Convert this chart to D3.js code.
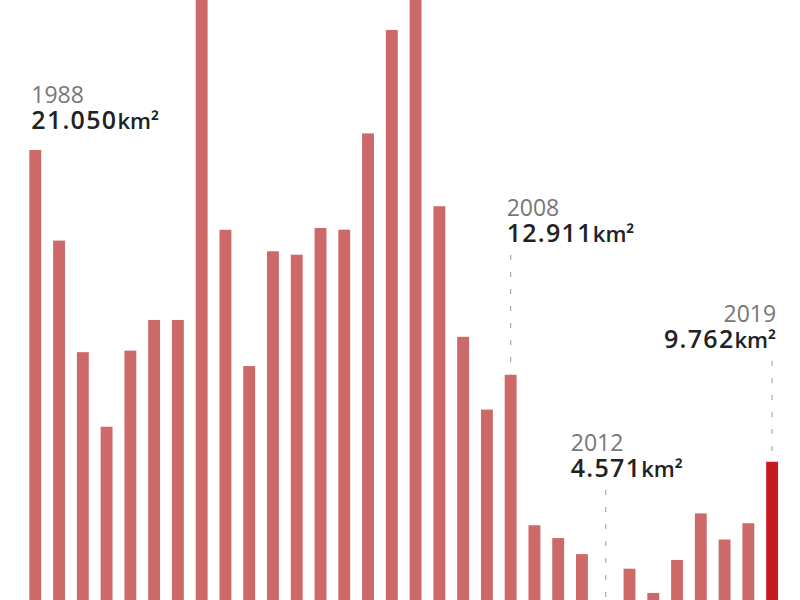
<!DOCTYPE html>
<html><head><meta charset="utf-8">
<script src="https://cdn.jsdelivr.net/npm/d3@7"></script>
<style>
html,body{margin:0;padding:0;background:#fff;overflow:hidden}
text{font-family:"Open Sans",sans-serif}
</style></head>
<body><svg id="c" width="800" height="600"></svg>
<script>
const years = d3.range(1988, 2020).map(String);
const values = [21050,17770,13730,11030,13786,14896,14896,29059,18161,13227,17383,17259,18226,18165,21651,25396,27772,19014,14286,11651,12911,7464,7000,6418,4571,5891,5012,6207,7893,6947,7536,9762];
const highlighted = ["2019"];
const annotations = [
  {year:"1988", anchor:"start", dx:-4, yearY:103, valueY:129, line:false},
  {year:"2008", anchor:"start", dx:-4, yearY:216, valueY:242, line:true},
  {year:"2012", anchor:"start", dx:-35, yearY:451, valueY:477, line:true},
  {year:"2019", anchor:"end", dx:4, yearY:322, valueY:348, line:true}
];
const unit = "km²";

const svg = d3.select("#c");
const x = d3.scaleBand().domain(years).range([23.4, 784]).paddingInner(0.5).paddingOuter(0.25);
const y = d3.scaleLinear().domain([0, 30000]).range([731.4, 731.4 - 30000*0.02762]);
const fmt = d3.formatLocale({decimal:",", thousands:".", grouping:[3], currency:["",""]}).format(",d");

svg.selectAll("rect.bar").data(years).join("rect")
  .attr("class","bar")
  .attr("x", d => x(d))
  .attr("width", x.bandwidth())
  .attr("y", (d,i) => y(values[i]))
  .attr("height", (d,i) => y(0) - y(values[i]))
  .attr("fill", d => highlighted.includes(d) ? "#c51b1f" : "#cd6969");

annotations.forEach(a => {
  const i = years.indexOf(a.year);
  const cx = x(a.year) + x.bandwidth()/2;
  if (a.line) {
    svg.append("line")
      .attr("x1", cx).attr("x2", cx)
      .attr("y1", a.valueY + 13).attr("y2", y(values[i]))
      .attr("stroke", "#aaa").attr("stroke-width", 1.2)
      .attr("stroke-dasharray", "5,12");
  }
  const tx = cx + a.dx;
  svg.append("text").attr("x", tx).attr("y", a.yearY)
    .attr("text-anchor", a.anchor)
    .attr("fill", "#777").attr("font-size", 23)
    .text(a.year);
  const t = svg.append("text").attr("x", tx).attr("y", a.valueY)
    .attr("text-anchor", a.anchor)
    .attr("fill", "#222").attr("font-size", 25).attr("font-weight", 600);
  t.append("tspan").attr("letter-spacing", 1.3).text(fmt(values[i]));
  t.append("tspan").attr("font-size", 22).attr("letter-spacing", 0).text(unit);
});
</script></body></html>
